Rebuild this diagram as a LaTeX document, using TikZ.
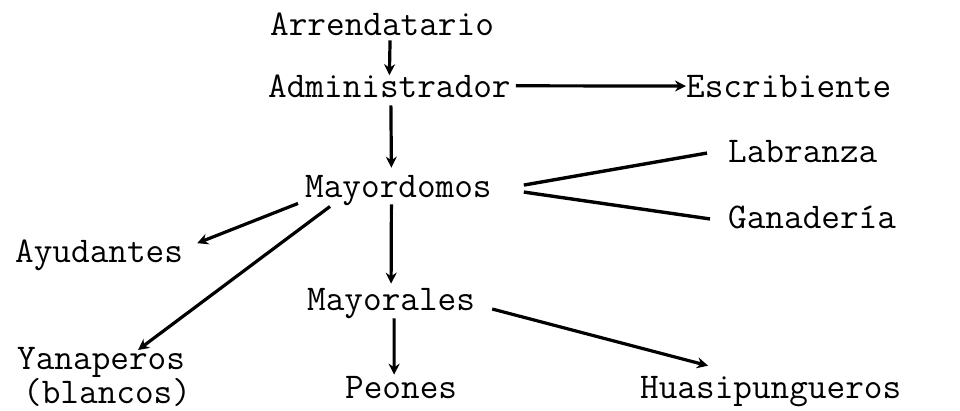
\documentclass[tikz,border=0pt]{standalone}
\usepackage{fontspec}
\usepackage{tikz}
\usetikzlibrary{arrows.meta}

\begin{document}
\begin{tikzpicture}[x=1pt,y=-1pt,
  lbl/.style={anchor=base west,inner sep=0pt,font=\ttfamily\fontsize{36.2}{22}\selectfont},
  arr/.style={line width=3.2pt,-{Stealth[length=11pt,width=11pt]}},
  stroke/.style={line width=3.4pt}]
\useasboundingbox (0,0) rectangle (960,410);

\node[lbl] (arr) at (270,35) {Arrendatario};
\node[lbl] (adm) at (268,97) {Administrador};
\node[lbl] (esc) at (686,97) {Escribiente};
\node[lbl] (lab) at (728,162) {Labranza};
\node[lbl] (may) at (305,197) {Mayordomos};
\node[lbl] (gan) at (728,228) {Ganader\'{\i}a};
\node[lbl] (ayu) at (15,262) {Ayudantes};
\node[lbl] (mal) at (307,310) {Mayorales};
\node[lbl,anchor=north west,align=left] (yan) at (17,347) {Yanaperos\\\hspace*{6pt}(blancos)};
\node[lbl] (peo) at (345,398) {Peones};
\node[lbl] (hua) at (640,398) {Huasipungueros};

\draw[arr] ([xshift=8pt,yshift=-5pt]arr.south) -- ([yshift=-1pt]adm.north);
\draw[arr] ([xshift=5pt]adm.east) -- (esc.west);
\draw[arr] ([xshift=1.5pt,yshift=-8pt]adm.south) -- ([xshift=-7pt,yshift=7pt]may.north);
\draw[arr] ([xshift=-7pt,yshift=1pt]may.south) -- ([yshift=4pt]mal.north);
\draw[arr] ([xshift=3pt]mal.south) -- ([xshift=-7pt,yshift=1pt]peo.north);

\draw[arr] ([xshift=-7pt,yshift=2pt]may.south west) -- ([xshift=14pt,yshift=-4pt]ayu.north east);
\draw[arr] ([xshift=25pt,yshift=-1pt]may.south west) -- ([xshift=121pt,yshift=-3pt]yan.north west);
\draw[arr] ([xshift=17pt,yshift=1pt]mal.base east) -- ([xshift=68pt,yshift=10pt]hua.north west);

\draw[stroke] ([xshift=32pt,yshift=5pt]may.east) -- ([xshift=-21pt,yshift=-2pt]lab.west);
\draw[stroke] ([xshift=32pt,yshift=-2pt]may.east) -- ([xshift=-18pt,yshift=-2pt]gan.west);
\end{tikzpicture}
\end{document}
